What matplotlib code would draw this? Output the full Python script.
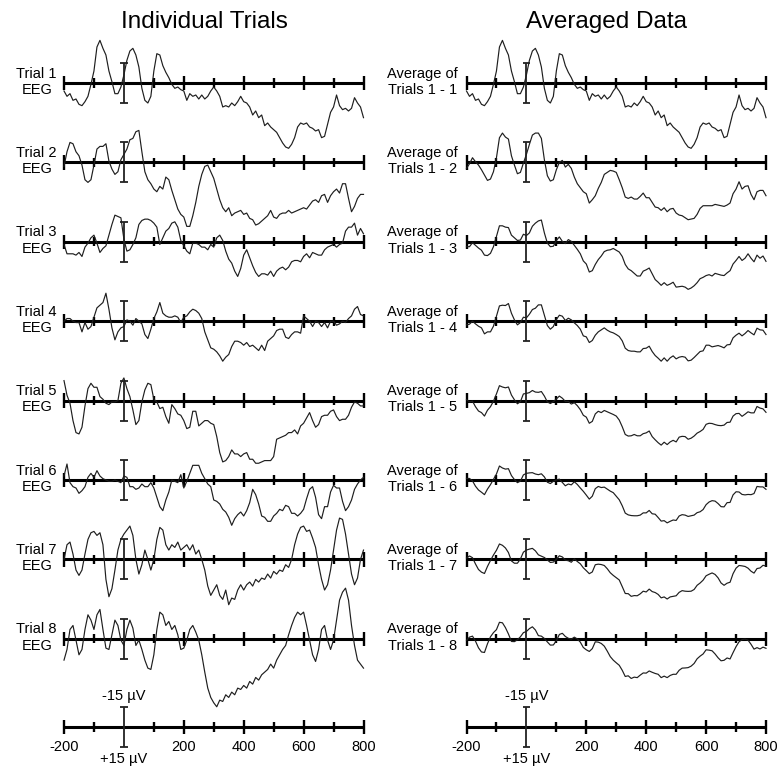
import numpy as np
import matplotlib.pyplot as plt

plt.rcParams['font.family'] = ['Liberation Sans', 'DejaVu Sans']

# time base of the recordings (ms), one sample every 10 ms
times = np.arange(-200, 801, 10)

# single-trial EEG in microvolts (positive values drawn downwards)
trial_1 = [6, 10, 8, 13, 12, 16, 17, 14, 10, 1,
           -9, -27, -32, -26, -21, -9, -1, 8, 8, 3,
           -6, -17, -24, -26, -21, -12, 4, 13, 15, 10,
           -9, -22, -21, -13, -8, -4, 1, 4, 3, 5,
           6, 13, 8, 10, 9, 12, 9, 12, 10, 6,
           3, 6, 10, 18, 17, 18, 15, 17, 14, 10,
           14, 15, 18, 24, 21, 26, 24, 32, 30, 33,
           35, 37, 41, 45, 48, 49, 46, 41, 33, 30,
           31, 30, 33, 34, 36, 35, 41, 40, 31, 22,
           18, 9, 17, 20, 19, 21, 19, 11, 15, 18,
           26]
trial_2 = [3, -8, -15, -14, -8, -5, 2, 13, 15, 13,
           2, -10, -12, -12, -14, -1, 5, 9, 7, -2,
           -6, -10, -17, -18, -23, -24, -8, 7, 13, 16,
           20, 22, 18, 20, 11, 13, 21, 28, 35, 39,
           41, 48, 48, 40, 30, 18, 9, 3, 2, 7,
           12, 20, 28, 34, 37, 34, 40, 38, 37, 36,
           39, 38, 42, 43, 47, 46, 44, 42, 40, 36,
           41, 42, 39, 38, 38, 36, 38, 37, 36, 35,
           34, 35, 32, 29, 28, 30, 25, 24, 30, 25,
           22, 20, 23, 16, 16, 27, 37, 33, 27, 24,
           24]
trial_3 = [2, 9, 9, 9, 10, 8, 11, 4, 1, -3,
           -5, 1, 8, 5, 3, -5, -13, -20, -19, -18,
           -2, 7, 6, 2, -3, -13, -16, -17, -17, -16,
           -14, -11, 2, -3, -8, -10, -14, -15, -11, -1,
           3, 7, 9, 1, 1, 2, 4, 4, 6, 2,
           4, -3, -5, -1, 7, 13, 16, 22, 26, 20,
           10, 6, 12, 18, 23, 26, 24, 24, 25, 22,
           26, 22, 20, 19, 21, 19, 15, 14, 14, 15,
           11, 9, 12, 8, 9, 10, 10, 6, 4, 3,
           2, 4, 2, 1, -8, -11, -11, -14, -5, -10,
           -6]
trial_4 = [0, -2, -2, 0, 1, 1, 8, 1, 6, 4,
           -3, -10, -12, -14, -21, -9, 5, 14, 8, 5,
           4, -1, 0, 3, -2, 0, 2, 10, 13, 6,
           -2, -7, -14, -6, -4, -3, -3, -4, -3, 1,
           -3, -4, -7, -9, -8, -6, -2, 8, 14, 20,
           21, 23, 26, 30, 27, 25, 19, 15, 15, 16,
           18, 16, 19, 18, 20, 22, 18, 22, 15, 13,
           11, 7, 6, 6, 12, 13, 10, 8, 8, 9,
           -4, -2, 0, 4, 0, 1, 4, 1, 5, 0,
           0, 3, 2, 0, 1, -2, -4, -9, -11, -5,
           -4]
trial_5 = [-15, -4, 2, 15, 24, 25, 20, 4, -9, -13,
           -10, -10, -3, -1, 2, 3, 1, 1, 0, -13,
           -17, -9, -3, 7, 18, 15, 1, -8, -13, -12,
           -1, 1, 6, 5, 12, 17, 3, 6, 10, 11,
           15, 21, 20, 8, 8, 19, 17, 15, 15, 17,
           18, 27, 39, 46, 45, 42, 37, 40, 40, 42,
           40, 39, 44, 44, 47, 47, 46, 45, 45, 45,
           42, 29, 28, 27, 26, 24, 24, 22, 25, 19,
           17, 13, 9, 15, 20, 18, 12, 11, 11, 8,
           7, 12, 15, 14, 14, 11, 5, 1, 2, 4,
           4]
trial_6 = [-3, -12, 2, 5, 6, 10, 8, 5, -2, -5,
           -2, -7, -3, -1, 0, 1, 1, 0, 1, 2,
           -3, -2, 5, 5, 7, 6, 3, 5, 5, 2,
           6, 13, 20, 23, 15, 9, 0, 1, 2, -4,
           6, 1, -5, -11, -11, -11, -5, -1, 3, 5,
           15, 16, 18, 22, 24, 28, 34, 29, 26, 24,
           27, 23, 17, 7, 11, 18, 27, 28, 31, 31,
           27, 25, 22, 23, 19, 20, 25, 25, 27, 25,
           22, 14, 7, 5, 13, 26, 29, 20, 20, 9,
           4, 6, 6, 16, 23, 20, 15, 7, 3, 0,
           -2]
trial_7 = [0, -11, -13, -4, 8, 12, 8, -4, -15, -20,
           -21, -18, -20, -11, 15, 28, 22, 8, -7, -15,
           -19, -22, -25, -18, 0, 11, 4, -7, 0, 8,
           0, -15, -24, -22, -11, -7, -11, -9, -13, -7,
           -9, -11, -7, -11, -4, -7, 0, 8, 20, 27,
           23, 19, 27, 30, 23, 34, 29, 30, 23, 19,
           23, 19, 17, 20, 15, 17, 14, 15, 11, 14,
           9, 11, 8, 9, 4, 6, 0, -11, -19, -24,
           -25, -21, -22, -16, -9, 4, 15, 23, 19, 8,
           -7, -22, -31, -30, -19, -4, 11, 19, 14, 0,
           -7]
trial_8 = [16, 8, -7, -10, 1, 12, 8, -7, -18, -14,
           -7, -18, -22, -7, 7, 8, -3, -14, -10, 1,
           5, -7, -14, -8, 5, 1, 8, 16, 22, 23,
           12, -7, -20, -18, -10, -13, -7, -10, -3, 8,
           7, 1, -7, -10, -5, 1, 12, 25, 37, 44,
           48, 51, 46, 47, 42, 44, 40, 42, 37, 38,
           35, 37, 32, 34, 29, 31, 27, 25, 23, 19,
           22, 16, 12, 8, 5, -3, -10, -16, -20, -18,
           -20, -10, 1, 12, 17, 8, -7, -10, 1, 8,
           1, -14, -29, -35, -38, -29, -10, 5, 16, 19,
           22]

major_ticks = [-200, 200, 400, 600, 800]
minor_ticks = [-100, 100, 300, 500, 700]
tick_labels = ['-200', '200', '400', '600', '800']
scale_uv = 15

trials = np.array([trial_1, trial_2, trial_3, trial_4,
                   trial_5, trial_6, trial_7, trial_8], dtype=float)
# running average of trials 1..n
averages = np.cumsum(trials, axis=0) / np.arange(1, len(trials) + 1)[:, None]

# layout in pixels
W, H = 779, 767
PX = 1.333          # pixels per microvolt
ROW0, ROW_STEP, SCALE_ROW = 83.0, 79.4, 727.0

fig = plt.figure(figsize=(W / 100, H / 100), dpi=100)


def draw_axis(ax, y0):
    ax.plot([-200, 800], [y0, y0], color='black', lw=2.2,
            solid_capstyle='butt', clip_on=False, zorder=3)
    ax.vlines(major_ticks, y0 - 5.4, y0 + 5.4, color='black', lw=1.7,
              clip_on=False, zorder=3)
    ax.vlines(minor_ticks, y0 - 3.4, y0 + 3.4, color='black', lw=1.7,
              clip_on=False, zorder=3)
    ax.vlines(0, y0 - scale_uv, y0 + scale_uv, color='#222222', lw=1.3,
              clip_on=False, zorder=3)
    ax.hlines([y0 - scale_uv, y0 + scale_uv], -13, 13, color='#222222',
              lw=1.3, clip_on=False, zorder=3)


panels = [
    (64.0, 'Individual Trials', 204, trials, -291, 'Trial {n}\nEEG'),
    (466.5, 'Averaged Data', 607, averages, -347, 'Average of\nTrials 1 - {n}'),
]

for x0, title, title_x, data, label_x, label_fmt in panels:
    ax = fig.add_axes([x0 / W, 0, 299.5 / W, 1])
    ax.set_xlim(-200, 800)
    ax.set_ylim(H / PX, 0)
    ax.axis('off')

    for i, trace in enumerate(data):
        y0 = (ROW0 + i * ROW_STEP) / PX
        draw_axis(ax, y0)
        ax.plot(times, y0 + trace, color='#1e1e1e', lw=0.85,
                clip_on=False, zorder=4)
        ax.text(label_x, y0 - 1, label_fmt.format(n=i + 1), ha='center',
                va='center', fontsize=10.5, linespacing=1.2)

    ys = SCALE_ROW / PX
    draw_axis(ax, ys)
    for t, lab in zip(major_ticks, tick_labels):
        ax.text(t, ys + 15, lab, ha='center', va='center', fontsize=10.5)
    ax.text(0, ys - 23, '-15 \u00b5V', ha='center', va='center', fontsize=10.5)
    ax.text(0, ys + 24, '+15 \u00b5V', ha='center', va='center', fontsize=10.5)

    fig.text(title_x / W, 1 - 22 / H, title, ha='center', va='center',
             fontsize=17.5)

fig.savefig('out.png', dpi=100, facecolor='white')
